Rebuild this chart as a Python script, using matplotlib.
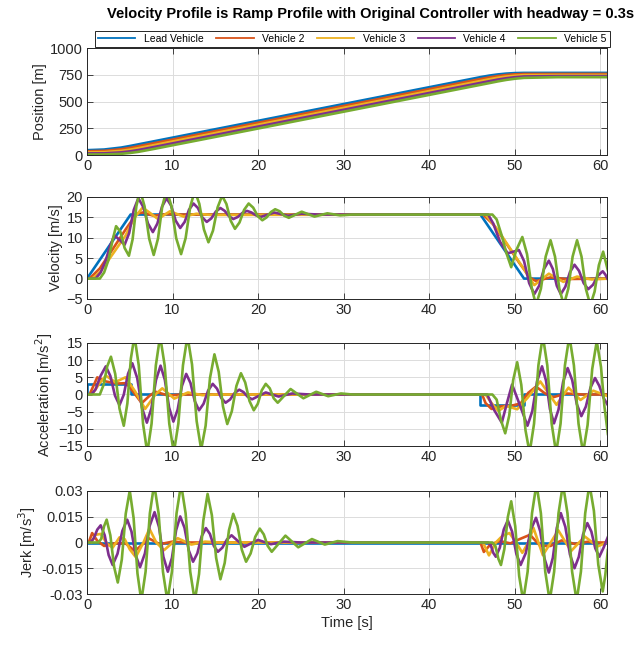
import matplotlib

matplotlib.use("Agg")
import matplotlib.pyplot as plt

plt.rcParams["font.family"] = ["Liberation Sans", "DejaVu Sans"]

NAMES = ["Lead Vehicle", "Vehicle 2", "Vehicle 3", "Vehicle 4", "Vehicle 5"]
COLORS = ["#0072BD", "#D95319", "#EDB120", "#7E2F8E", "#77AC30"]

# ---- position [m]
pos_t = [0, 2, 4, 5.1, 6, 8, 10, 15, 20, 25, 30, 35, 40, 46, 47, 48, 49, 50, 51.1, 55, 61]
pos_lead = [45, 51.1, 69.5, 85.3, 99.4, 130.8, 162.2, 240.7, 319.2, 397.7, 476.2, 554.7,
            633.2, 727.4, 741.6, 752.6, 760.6, 765.4, 767.4, 767.4, 767.4]
pos_v2 = [35, 38.4, 53.9, 67.4, 81.3, 112.7, 144.1, 222.6, 301.1, 379.6, 458.1, 536.6,
          615.1, 709.3, 724.4, 737.1, 747.0, 753.8, 757.2, 757.4, 757.4]
pos_v3 = [25, 26.5, 38.8, 50.7, 63.7, 94.8, 126.2, 204.7, 283.2, 361.7, 440.2, 518.7,
          597.2, 691.4, 707.4, 721.6, 732.6, 740.6, 746.2, 747.4, 747.4]
pos_v4 = [15, 15.4, 24.6, 35, 46.3, 77, 108.4, 186.9, 265.4, 343.9, 422.4, 500.9,
          579.4, 673.6, 689.3, 704.4, 717.1, 727, 734.2, 737.4, 737.4]
pos_v5 = [5, 5, 11.1, 19.7, 29.5, 59.4, 90.8, 169, 247.5, 326, 404.5, 483,
          561.5, 655.7, 671.4, 687.4, 701.6, 712.6, 721, 727.4, 727.4]

# ---- velocity [m/s]  (time, value) pairs
vel_lead = [(0, 0), (5.1, 15.7), (46.0, 15.7), (51.1, 0), (61, 0)]
vel_v2 = [(0, 0), (0.3, 0), (1.5, 2.5), (3, 7.2), (4.5, 12), (5.8, 15.9), (6.5, 16.2),
          (7.8, 15.4), (9.3, 15.8), (11, 15.7), (46.3, 15.7), (47.5, 13.3), (49, 8.7),
          (50.5, 4.0), (51.8, 0.2), (52.5, -0.6), (54.2, 0.3), (56, -0.1), (61, 0)]
vel_v3 = [(0, 0), (0.6, 0), (1.5, 1.5), (3, 6), (4.5, 10.5), (5.5, 14.8), (6.5, 17.4),
          (7.3, 16.2), (8.3, 14.6), (9.7, 16.5), (11.3, 15.2), (12.8, 15.9), (14.5, 15.6),
          (46.6, 15.7), (48, 12), (49.5, 7.3), (51, 2.6), (52.3, -1.6), (54, 1.2),
          (55.7, -0.8), (57.3, 0.5), (59, -0.2), (61, 0)]
vel_v4 = [(0, 0), (1.0, 0), (1.6, 1.5), (2.2, 4.5), (2.7, 8), (3.2, 10.6), (3.8, 9.5),
          (4.4, 8.3), (4.93, 11.15), (5.47, 16.85), (6.0, 19.7), (6.57, 17.6), (7.13, 13.5),
          (7.7, 11.4), (8.23, 13.5), (8.77, 17.6), (9.3, 19.7), (9.83, 17.9), (10.37, 14.2),
          (10.9, 12.4), (11.42, 13.9), (11.93, 16.9), (12.45, 18.4), (12.97, 17.3),
          (13.48, 15.0), (14.0, 13.9), (14.53, 14.75), (15.07, 16.45), (15.6, 17.3),
          (16.1, 16.6), (16.6, 15.3), (17.1, 14.6), (17.63, 15.1), (18.17, 16.1),
          (18.7, 16.6), (19.23, 16.2), (19.77, 15.5), (20.3, 15.1), (21.9, 16.2),
          (23.5, 15.4), (25.1, 15.9), (27, 15.7), (46.9, 15.7), (47.5, 13.5), (48.3, 9.0),
          (49.2, 6.2), (50.5, 7.0), (51.1, 4.3), (51.7, -1.1), (52.3, -3.8), (52.87, -1.75),
          (53.43, 2.35), (54.0, 4.4), (54.47, 2.35), (54.93, -1.75), (55.4, -3.8),
          (55.93, -2.0), (56.47, 1.6), (57.0, 3.4), (57.53, 1.9), (58.07, -1.1),
          (58.6, -2.6), (59.17, -1.5), (59.73, 0.7), (60.3, 1.8), (60.6, 1.0), (60.9, -0.2)]
vel_v5 = [(0, 0), (1.5, 0), (2.0, 1.5), (2.5, 4.5), (3.0, 9.5), (3.4, 12.85), (3.9, 11.5),
          (4.4, 7.5), (4.9, 5.6), (5.33, 9.6), (5.77, 17.7), (6.2, 21.7), (6.73, 17.7),
          (7.27, 9.8), (7.8, 5.8), (8.3, 9.8), (8.8, 17.7), (9.3, 21.7), (9.87, 17.8),
          (10.43, 9.9), (11.0, 6.0), (11.53, 9.9), (12.07, 17.6), (12.6, 21.5),
          (13.13, 18.35), (13.67, 12.05), (14.2, 8.9), (14.73, 11.75), (15.27, 17.45),
          (15.8, 20.3), (16.3, 18.3), (16.8, 14.2), (17.3, 12.2), (17.83, 13.75),
          (18.37, 16.85), (18.9, 18.4), (19.43, 17.4), (19.97, 15.3), (20.5, 14.3),
          (21.0, 15.0), (21.5, 16.3), (22.0, 17.0), (22.53, 16.5), (23.07, 15.4),
          (23.6, 14.9), (25.1, 16.4), (26.6, 15.2), (28.1, 16.0), (29.6, 15.5), (31, 15.7),
          (47.4, 15.7), (47.9, 14.5), (48.5, 10.5), (49.0, 6.5), (49.6, 2.8), (50.2, 7),
          (50.9, 10.2), (51.45, 6.0), (52.0, -2.3), (52.5, -6.5), (53.07, -2.5),
          (53.63, 5.4), (54.2, 9.4), (54.72, 5.4), (55.23, -2.5), (55.75, -6.5),
          (56.27, -2.5), (56.78, 5.4), (57.3, 9.4), (57.82, 5.4), (58.33, -2.5),
          (58.85, -6.5), (59.35, -3.2), (59.85, 3.3), (60.35, 6.6), (60.9, 2.0)]

# ---- acceleration [m/s^2]
acc_lead = [(0, 0), (0, 3.1), (5.1, 3.1), (5.1, 0), (46.0, 0), (46.0, -3.1),
            (51.1, -3.1), (51.1, 0), (61, 0)]
acc_v2 = [(0, 0), (0.3, 0), (1.2, 5.0), (2.2, 3.8), (3.5, 3.2), (4.6, 3.3), (5.5, 0.5),
          (6.4, -2.5), (7.3, -0.4), (8.0, 0.8), (9.5, -0.3), (11, 0), (46.2, 0),
          (46.6, -2.5), (47.3, -4.2), (48.5, -3.4), (49.6, -3.3), (50.7, -2.6),
          (51.6, 0.5), (52.5, 2.3), (53.5, 0.4), (54.5, -0.8), (56, 0.3), (58, 0), (61, 0)]
acc_v3 = [(0, 0), (0.6, 0), (1.4, 3), (2.2, 5.5), (3.3, 3.6), (4.5, 5.0), (5.6, 1),
          (6.8, -4.2), (8.0, 0), (8.8, 1.8), (10.2, -1.2), (11.8, 0.6), (13.5, -0.2),
          (15, 0), (46.6, 0), (47.3, -2.5), (48.1, -4.8), (49.0, -3.3), (50.3, -4.3),
          (51.5, -1), (53.0, 3.8), (54.0, 0.2), (54.9, -3.0), (56.3, 2.0), (57.7, -1.6),
          (59.2, 1.1), (60.9, -0.5)]
acc_v4 = [(0, 0), (0.5, 0), (1.0, 1.5), (1.6, 5.5), (2.2, 8.2), (2.73, 5.4), (3.27, -0.3),
          (3.8, -3.1), (4.3, -0.05), (4.8, 6.05), (5.3, 9.1), (5.87, 4.8), (6.43, -3.9),
          (7.0, -8.2), (7.53, -4.05), (8.07, 4.25), (8.6, 8.4), (9.1, 4.3), (9.6, -3.8),
          (10.1, -7.9), (10.6, -4.4), (11.1, 2.5), (11.6, 6.0), (12.1, 3.35), (12.6, -1.95),
          (13.1, -4.6), (13.63, -2.7), (14.17, 1.2), (14.7, 3.1), (15.2, 1.7), (15.7, -1.0),
          (16.2, -2.4), (16.73, -1.45), (17.27, 0.45), (17.8, 1.4), (18.3, 0.7),
          (18.8, -0.7), (19.3, -1.4), (20.9, 0.6), (22.4, -0.6), (24, 0.3), (26, 0),
          (46.8, 0), (47.6, -4.5), (48.5, -8.2), (49.1, -2.5), (49.7, 2.9), (50.6, -3),
          (51.5, -9.1), (52.07, -4.8), (52.63, 3.9), (53.2, 8.2), (53.67, 4.05),
          (54.13, -4.25), (54.6, -8.4), (55.13, -4.4), (55.67, 3.7), (56.2, 7.7),
          (56.73, 4.2), (57.27, -2.8), (57.8, -6.3), (58.33, -3.5), (58.87, 2.0),
          (59.4, 4.8), (59.9, 2.5), (60.4, -1.0), (60.9, -3.1)]
acc_v5 = [(0, 0), (1.5, 0), (1.93, 2.75), (2.37, 8.25), (2.8, 11.0), (3.3, 6.0),
          (3.8, -4.1), (4.3, -9.1), (4.72, -2.6), (5.13, 10.5), (5.55, 17), (6.05, 8.5),
          (6.55, -8.5), (7.05, -17), (7.55, -8.5), (8.05, 8.5), (8.55, 17), (9.08, 8.5),
          (9.62, -8.5), (10.15, -17), (10.68, -8.5), (11.22, 8.5), (11.75, 17),
          (12.28, 8.75), (12.82, -7.75), (13.35, -16), (13.87, -9.1), (14.38, 4.8),
          (14.9, 11.7), (15.4, 6.6), (15.9, -3.5), (16.4, -8.6), (16.93, -4.9),
          (17.47, 2.5), (18.0, 6.2), (18.5, 3.5), (19.0, -1.9), (19.5, -4.6),
          (19.97, -2.7), (20.43, 1.2), (20.9, 3.1), (21.37, 1.8), (21.83, -1.1),
          (22.3, -2.4), (23.8, 1.6), (25.3, -1.1), (26.8, 0.8), (28.2, -0.5), (29.7, 0.3),
          (31, 0), (47.4, 0), (47.9, -1.5), (48.4, -7.5), (48.9, -11.3), (49.37, -6.1),
          (49.83, 4.2), (50.3, 9.4), (50.78, 2.8), (51.27, -10.4), (51.75, -17),
          (52.27, -8.5), (52.78, 8.5), (53.3, 17), (53.82, 8.5), (54.33, -8.5),
          (54.85, -17), (55.37, -8.5), (55.88, 8.5), (56.4, 17), (56.93, 8.5),
          (57.47, -8.5), (58.0, -17), (58.53, -8.9), (59.07, 7.4), (59.6, 15.5),
          (60.1, 8.0), (60.5, -3.5), (60.9, -11.5)]

# ---- jerk [m/s^3]
jerk_lead = [(0, 0), (61, 0)]
jerk_v2 = [(0, 0), (0.2, 0), (0.6, 0.0055), (1.2, 0.001), (2.0, -0.002), (3.2, -0.0005),
           (4.5, -0.0005), (5.6, -0.005), (6.5, -0.001), (7.2, 0.0025), (8.5, -0.001),
           (10, 0.0005), (11.5, 0), (46.0, 0), (46.4, -0.0055), (47.2, -0.001),
           (48.3, 0.0008), (49.5, -0.0005), (50.6, 0.002), (51.8, 0.0045), (53.0, -0.002),
           (54.2, -0.002), (55.5, 0.0012), (57, -0.0008), (58.5, 0.0004), (60, 0), (61, 0)]
jerk_v3 = [(0, 0), (0.5, 0), (1.0, 0.0045), (1.6, 0.005), (2.4, -0.001), (3.0, -0.003),
           (3.8, 0.003), (4.4, 0.002), (5.0, -0.004), (5.7, -0.0085), (6.6, 0),
           (7.3, 0.008), (8.1, 0), (9.0, -0.0045), (10.6, 0.0025), (12.2, -0.0012),
           (13.8, 0.0005), (15.5, 0), (46.3, 0), (47.0, -0.0075), (47.8, 0),
           (48.6, 0.004), (49.4, 0.0055), (50.3, -0.001), (50.9, -0.006), (51.6, 0),
           (52.2, 0.0085), (53.3, -0.0074), (55.1, 0.0071), (56.6, -0.005),
           (58.2, 0.0035), (59.7, -0.0023), (61, 0.0005)]
jerk_v4 = [(0, 0), (0.4, 0), (0.8, 0.0025), (1.2, 0.0075), (1.6, 0.010), (2.07, 0.0042),
           (2.53, -0.0073), (3.0, -0.0131), (3.57, -0.0065), (4.13, 0.0067), (4.7, 0.0133),
           (5.2, 0.0064), (5.7, -0.0075), (6.2, -0.0144), (6.77, -0.0064), (7.33, 0.0097),
           (7.9, 0.0177), (8.42, 0.009), (8.93, -0.0083), (9.45, -0.017), (9.93, -0.009),
           (10.42, 0.0072), (10.9, 0.0152), (11.4, 0.0086), (11.9, -0.0046),
           (12.4, -0.0112), (12.9, -0.0063), (13.4, 0.0035), (13.9, 0.0084),
           (14.37, 0.005), (14.83, -0.002), (15.3, -0.0054), (15.83, -0.003),
           (16.37, 0.0018), (16.9, 0.0042), (18.4, -0.0025), (20.0, 0.0015),
           (21.5, -0.001), (23, 0.0005), (25, 0), (46.9, 0), (47.2, -0.0015),
           (47.5, -0.006), (47.8, -0.0083), (48.27, -0.003), (48.73, 0.0076),
           (49.2, 0.0129), (49.7, 0.0064), (50.2, -0.0066), (50.7, -0.0131),
           (51.3, -0.0062), (51.9, 0.0075), (52.5, 0.0144), (53.0, 0.0064),
           (53.5, -0.0095), (54.0, -0.0175), (54.47, -0.0089), (54.93, 0.0085),
           (55.4, 0.0171), (55.93, 0.0091), (56.47, -0.007), (57.0, -0.015),
           (57.5, -0.0084), (58.0, 0.0047), (58.5, 0.0113), (58.97, 0.0064),
           (59.43, -0.0034), (59.9, -0.0083), (60.4, -0.003), (60.9, 0.0032)]
jerk_v5 = [(0, 0), (1.3, 0), (1.65, 0.002), (2.0, 0.0095), (2.3, 0.0133), (2.73, 0.0042),
           (3.17, -0.0142), (3.6, -0.0233), (4.07, -0.0099), (4.53, 0.0168), (5.0, 0.0302),
           (5.45, 0.0142), (5.9, -0.018), (6.35, -0.034), (6.85, -0.017), (7.35, 0.017),
           (7.85, 0.034), (8.37, 0.017), (8.88, -0.017), (9.4, -0.034), (9.93, -0.017),
           (10.47, 0.017), (11.0, 0.034), (11.53, 0.017), (12.07, -0.017), (12.6, -0.034),
           (13.1, -0.0184), (13.6, 0.0127), (14.1, 0.0283), (14.6, 0.0159), (15.1, -0.009),
           (15.6, -0.0214), (16.1, -0.0119), (16.6, 0.0072), (17.1, 0.0167), (17.6, 0.0097),
           (18.1, -0.0042), (18.6, -0.0112), (19.13, -0.0064), (19.67, 0.0033),
           (20.2, 0.0081), (20.67, 0.0047), (21.13, -0.002), (21.6, -0.0054),
           (23.2, 0.004), (24.7, -0.0028), (26.3, 0.002), (27.8, -0.0012), (29.3, 0.0008),
           (31, 0), (47.4, 0), (47.75, -0.002), (48.1, -0.0095), (48.4, -0.0131),
           (48.8, -0.0038), (49.2, 0.0147), (49.6, 0.024), (50.07, 0.0095),
           (50.53, -0.0195), (51.0, -0.034), (51.52, -0.017), (52.03, 0.017),
           (52.55, 0.034), (53.07, 0.017), (53.58, -0.017), (54.1, -0.034),
           (54.62, -0.017), (55.13, 0.017), (55.65, 0.034), (56.18, 0.017),
           (56.72, -0.017), (57.25, -0.034), (57.75, -0.017), (58.25, 0.017),
           (58.75, 0.034), (59.27, 0.0184), (59.78, -0.0129), (60.3, -0.0285),
           (60.6, -0.019), (60.9, -0.0044)]

vel = [vel_lead, vel_v2, vel_v3, vel_v4, vel_v5]
acc = [acc_lead, acc_v2, acc_v3, acc_v4, acc_v5]
jerk = [jerk_lead, jerk_v2, jerk_v3, jerk_v4, jerk_v5]
pos = [pos_lead, pos_v2, pos_v3, pos_v4, pos_v5]

W, H = 640, 648
fig = plt.figure(figsize=(W / 100, H / 100), dpi=100)


def make_axes(top, bottom, left=87, right=607):
    return fig.add_axes([left / W, 1 - bottom / H, (right - left) / W, (bottom - top) / H])


def style(ax, ylim, yticks, ylabel, yticklabels=None):
    ax.set_xlim(0, 60.8)
    ax.set_ylim(*ylim)
    ax.set_xticks(range(0, 61, 10))
    ax.set_yticks(yticks)
    if yticklabels:
        ax.set_yticklabels(yticklabels)
    ax.set_ylabel(ylabel, fontsize=10.5, color="#262626", labelpad=2)
    ax.grid(True, color="#dcdcdc", linewidth=0.7)
    ax.set_axisbelow(True)
    ax.tick_params(direction="in", length=4, width=0.6, top=True, right=True,
                   labelsize=10.5, colors="#262626", pad=3)
    for spine in ax.spines.values():
        spine.set_color("#262626")
        spine.set_linewidth(0.7)


def draw(ax, series):
    for color, pts in zip(COLORS, series):
        ax.plot([p[0] for p in pts], [p[1] for p in pts], color=color,
                linewidth=LW, solid_joinstyle="round")


LW = 1.9

ax1 = make_axes(48, 155)
for name, color, ys in zip(NAMES, COLORS, pos):
    ax1.plot(pos_t, ys, color=color, linewidth=LW, label=name)
style(ax1, (0, 1000), [0, 250, 500, 750, 1000], "Position [m]")
leg = ax1.legend(loc="lower center", bbox_to_anchor=(0.51, 1.0), ncol=5, fontsize=7.5,
                 handlelength=3.6, columnspacing=1.2, handletextpad=0.8,
                 borderpad=0.3, borderaxespad=0.1, fancybox=False,
                 edgecolor="#262626", framealpha=1)
leg.get_frame().set_linewidth(0.7)
for line in leg.get_lines():
    line.set_linewidth(1.3)

ax2 = make_axes(197, 299)
draw(ax2, vel)
style(ax2, (-5, 20), [-5, 0, 5, 10, 15, 20], "Velocity [m/s]")

ax3 = make_axes(343, 446)
draw(ax3, acc)
style(ax3, (-15, 15), [-15, -10, -5, 0, 5, 10, 15], "Acceleration [m/s$^2$]")

ax4 = make_axes(491, 594)
draw(ax4, jerk)
style(ax4, (-0.03, 0.03), [-0.03, -0.015, 0, 0.015, 0.03], "Jerk [m/s$^3$]",
      ["-0.03", "-0.015", "0", "0.015", "0.03"])
ax4.set_xlabel("Time [s]", fontsize=10.5, color="#262626", labelpad=3)

fig.text(371 / W, 1 - 14 / H,
         "Velocity Profile is Ramp Profile with Original Controller with headway = 0.3s",
         ha="center", va="center", fontsize=10.5, fontweight="bold", color="#000000")

fig.savefig("out.png", dpi=100)
